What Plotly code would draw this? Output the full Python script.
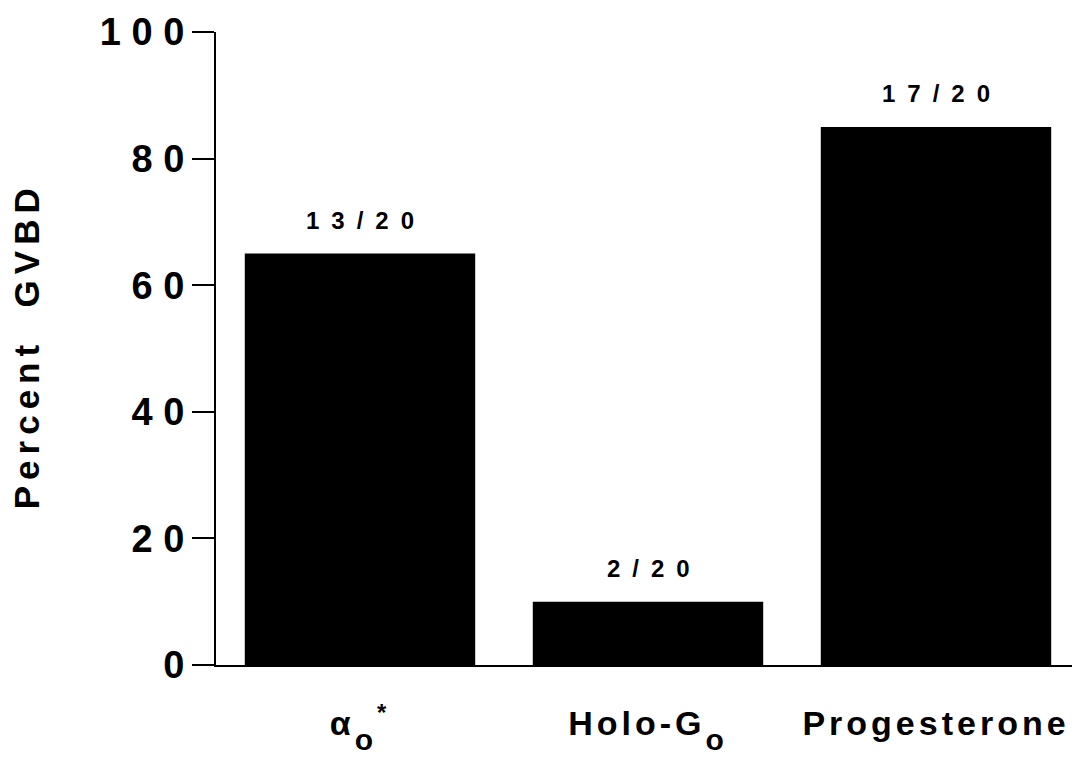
import plotly.graph_objects as go

# ---- data ----
categories = ["α<sub>o</sub><sup>*</sup>", "Holo-G<sub>o</sub>", "Progesterone"]
n_gvbd = [13, 2, 17]
n_total = [20, 20, 20]
percent_gvbd = [65, 10, 85]
y_tick_values = [0, 20, 40, 60, 80, 100]
y_tick_labels = ["0", "2 0", "4 0", "6 0", "8 0", "1 0 0"]
y_title = "Percent  GVBD"

FONT = "Liberation Sans, Arial, Helvetica, sans-serif"


def spaced(s, ls):
    return f'<span style="letter-spacing:{ls}px">{s}</span>'


def big_sub(s):
    return s.replace(
        "<sub>o</sub>",
        '<sub><span style="font-size:30px;baseline-shift:-8px">o</span></sub>',
    )


fig = go.Figure()
fig.add_trace(go.Bar(
    x=categories,
    y=percent_gvbd,
    marker=dict(color="black", line=dict(width=0)),
    width=0.8,
    hoverinfo="skip",
))

for cat, n, t, p in zip(categories, n_gvbd, n_total, percent_gvbd):
    fig.add_annotation(
        x=cat, y=p, xref="x", yref="y",
        text=spaced(f"{n}/{t}", 12),
        showarrow=False, yanchor="bottom", yshift=18, xshift=6,
        font=dict(family=FONT, size=24, color="black", weight="bold"),
    )

fig.add_annotation(
    x=-0.22, y=0.505, xref="paper", yref="paper",
    text=spaced(y_title, 6), textangle=-90,
    showarrow=False, xanchor="center", yanchor="middle",
    font=dict(family=FONT, size=35, color="black", weight="bold"),
)

# page body has an 8px margin: shrink the figure and shift the plot area accordingly
fig.update_layout(
    width=1072, height=752,
    margin=dict(l=208, r=0, t=24, b=95),
    plot_bgcolor="white", paper_bgcolor="white",
    showlegend=False,
    bargap=0.2,
)
fig.update_xaxes(
    type="category",
    range=[-0.5, 2.5],
    tickvals=categories,
    ticktext=[spaced(big_sub(c), 4) for c in categories],
    tickfont=dict(family=FONT, size=34, color="black", weight="bold"),
    showline=True, linecolor="black", linewidth=2,
    ticks="", showgrid=False, zeroline=False,
    ticklabelstandoff=27,
    automargin=False,
)
fig.update_yaxes(
    range=[0, 100],
    tickvals=y_tick_values,
    ticktext=y_tick_labels,
    tickfont=dict(family=FONT, size=38, color="black", weight="bold"),
    showline=True, linecolor="black", linewidth=2,
    ticks="outside", ticklen=22, tickwidth=2, tickcolor="black",
    showgrid=False, zeroline=False,
    automargin=False,
)

fig.write_html("out.html")
